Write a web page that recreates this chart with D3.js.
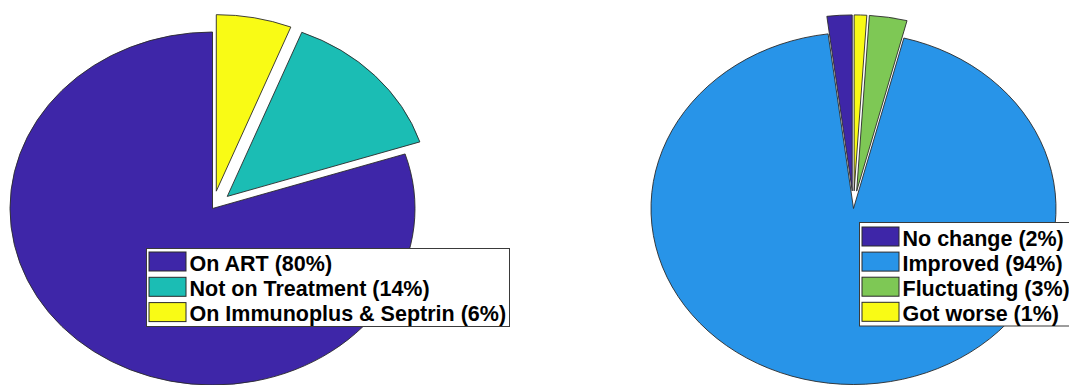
<!DOCTYPE html>
<html>
<head>
<meta charset="utf-8">
<script src="https://cdn.jsdelivr.net/npm/d3@7"></script>
<style>
  html, body { margin: 0; padding: 0; background: #fff; }
  svg { display: block; }
</style>
</head>
<body>
<svg id="chart" width="1069" height="385"></svg>
<script>
// Treatment status of patients
const treatmentNames = ["On ART", "Not on Treatment", "On Immunoplus & Septrin"];
const treatmentValues = [80, 14, 6];
const treatmentExplode = [0, 1, 1];
const treatmentColors = ["#3E26A8", "#1BBDB4", "#F9FB15"];

// Clinical progress of patients
const progressNames = ["No change", "Improved", "Fluctuating", "Got worse"];
const progressValues = [2, 94, 3, 1];
const progressExplode = [1, 0, 1, 1];
const progressColors = ["#3E26A8", "#2894E8", "#7EC855", "#F9FB15"];

const svg = d3.select("#chart");

function drawPie(opts) {
  const { names, values, explode, colors, cx, cy, rx, ry, legend } = opts;
  const data = names.map((n, i) => ({ name: n, value: values[i], explode: explode[i], color: colors[i] }));

  // slices run counter-clockwise from 12 o'clock
  const pie = d3.pie().value(d => d.value).sort(null)
    .startAngle(0).endAngle(-2 * Math.PI);
  const arc = d3.arc().innerRadius(0).outerRadius(rx);

  const g = svg.append("g")
    .attr("transform", `translate(${cx},${cy}) scale(1,${ry / rx})`);

  g.selectAll("path")
    .data(pie(data))
    .join("path")
    .attr("d", arc)
    .attr("transform", d => {
      const a = (d.startAngle + d.endAngle) / 2;
      const off = d.data.explode ? 0.1 * rx : 0;
      return `translate(${Math.sin(a) * off},${-Math.cos(a) * off})`;
    })
    .attr("fill", d => d.data.color)
    .attr("stroke", "#2a2a2a")
    .attr("stroke-width", 0.9)
    .attr("stroke-linejoin", "miter")
    .attr("vector-effect", "non-scaling-stroke");

  // legend
  const lg = svg.append("g");
  lg.append("rect")
    .attr("x", legend.x).attr("y", legend.y)
    .attr("width", legend.w).attr("height", legend.h)
    .attr("fill", "#fff")
    .attr("stroke", "#3a3a3a")
    .attr("stroke-width", 1);

  const rows = lg.selectAll("g.row")
    .data(data)
    .join("g")
    .attr("class", "row")
    .attr("transform", (d, i) => `translate(${legend.x + 2.5},${legend.y + legend.top + i * legend.step})`);

  rows.append("rect")
    .attr("x", 0).attr("y", 0)
    .attr("width", 37).attr("height", 19)
    .attr("fill", d => d.color)
    .attr("stroke", "#2a2a2a")
    .attr("stroke-width", 1);

  rows.append("text")
    .attr("x", 40.5)
    .attr("y", 18.5)
    .attr("font-family", "'Liberation Sans', Arial, sans-serif")
    .attr("font-weight", "bold")
    .attr("font-size", "21.5px")
    .attr("fill", "#000")
    .text(d => `${d.name} (${d.value}%)`);
}

drawPie({
  names: treatmentNames, values: treatmentValues, explode: treatmentExplode, colors: treatmentColors,
  cx: 212.5, cy: 208.5, rx: 202.5, ry: 176.5,
  legend: { x: 146.5, y: 248.5, w: 363, h: 78, top: 3.5, step: 25.3 }
});

drawPie({
  names: progressNames, values: progressValues, explode: progressExplode, colors: progressColors,
  cx: 853.5, cy: 208.5, rx: 202.5, ry: 176,
  legend: { x: 859.5, y: 222.5, w: 230, h: 103.5, top: 4.5, step: 25.1 }
});
</script>
</body>
</html>
